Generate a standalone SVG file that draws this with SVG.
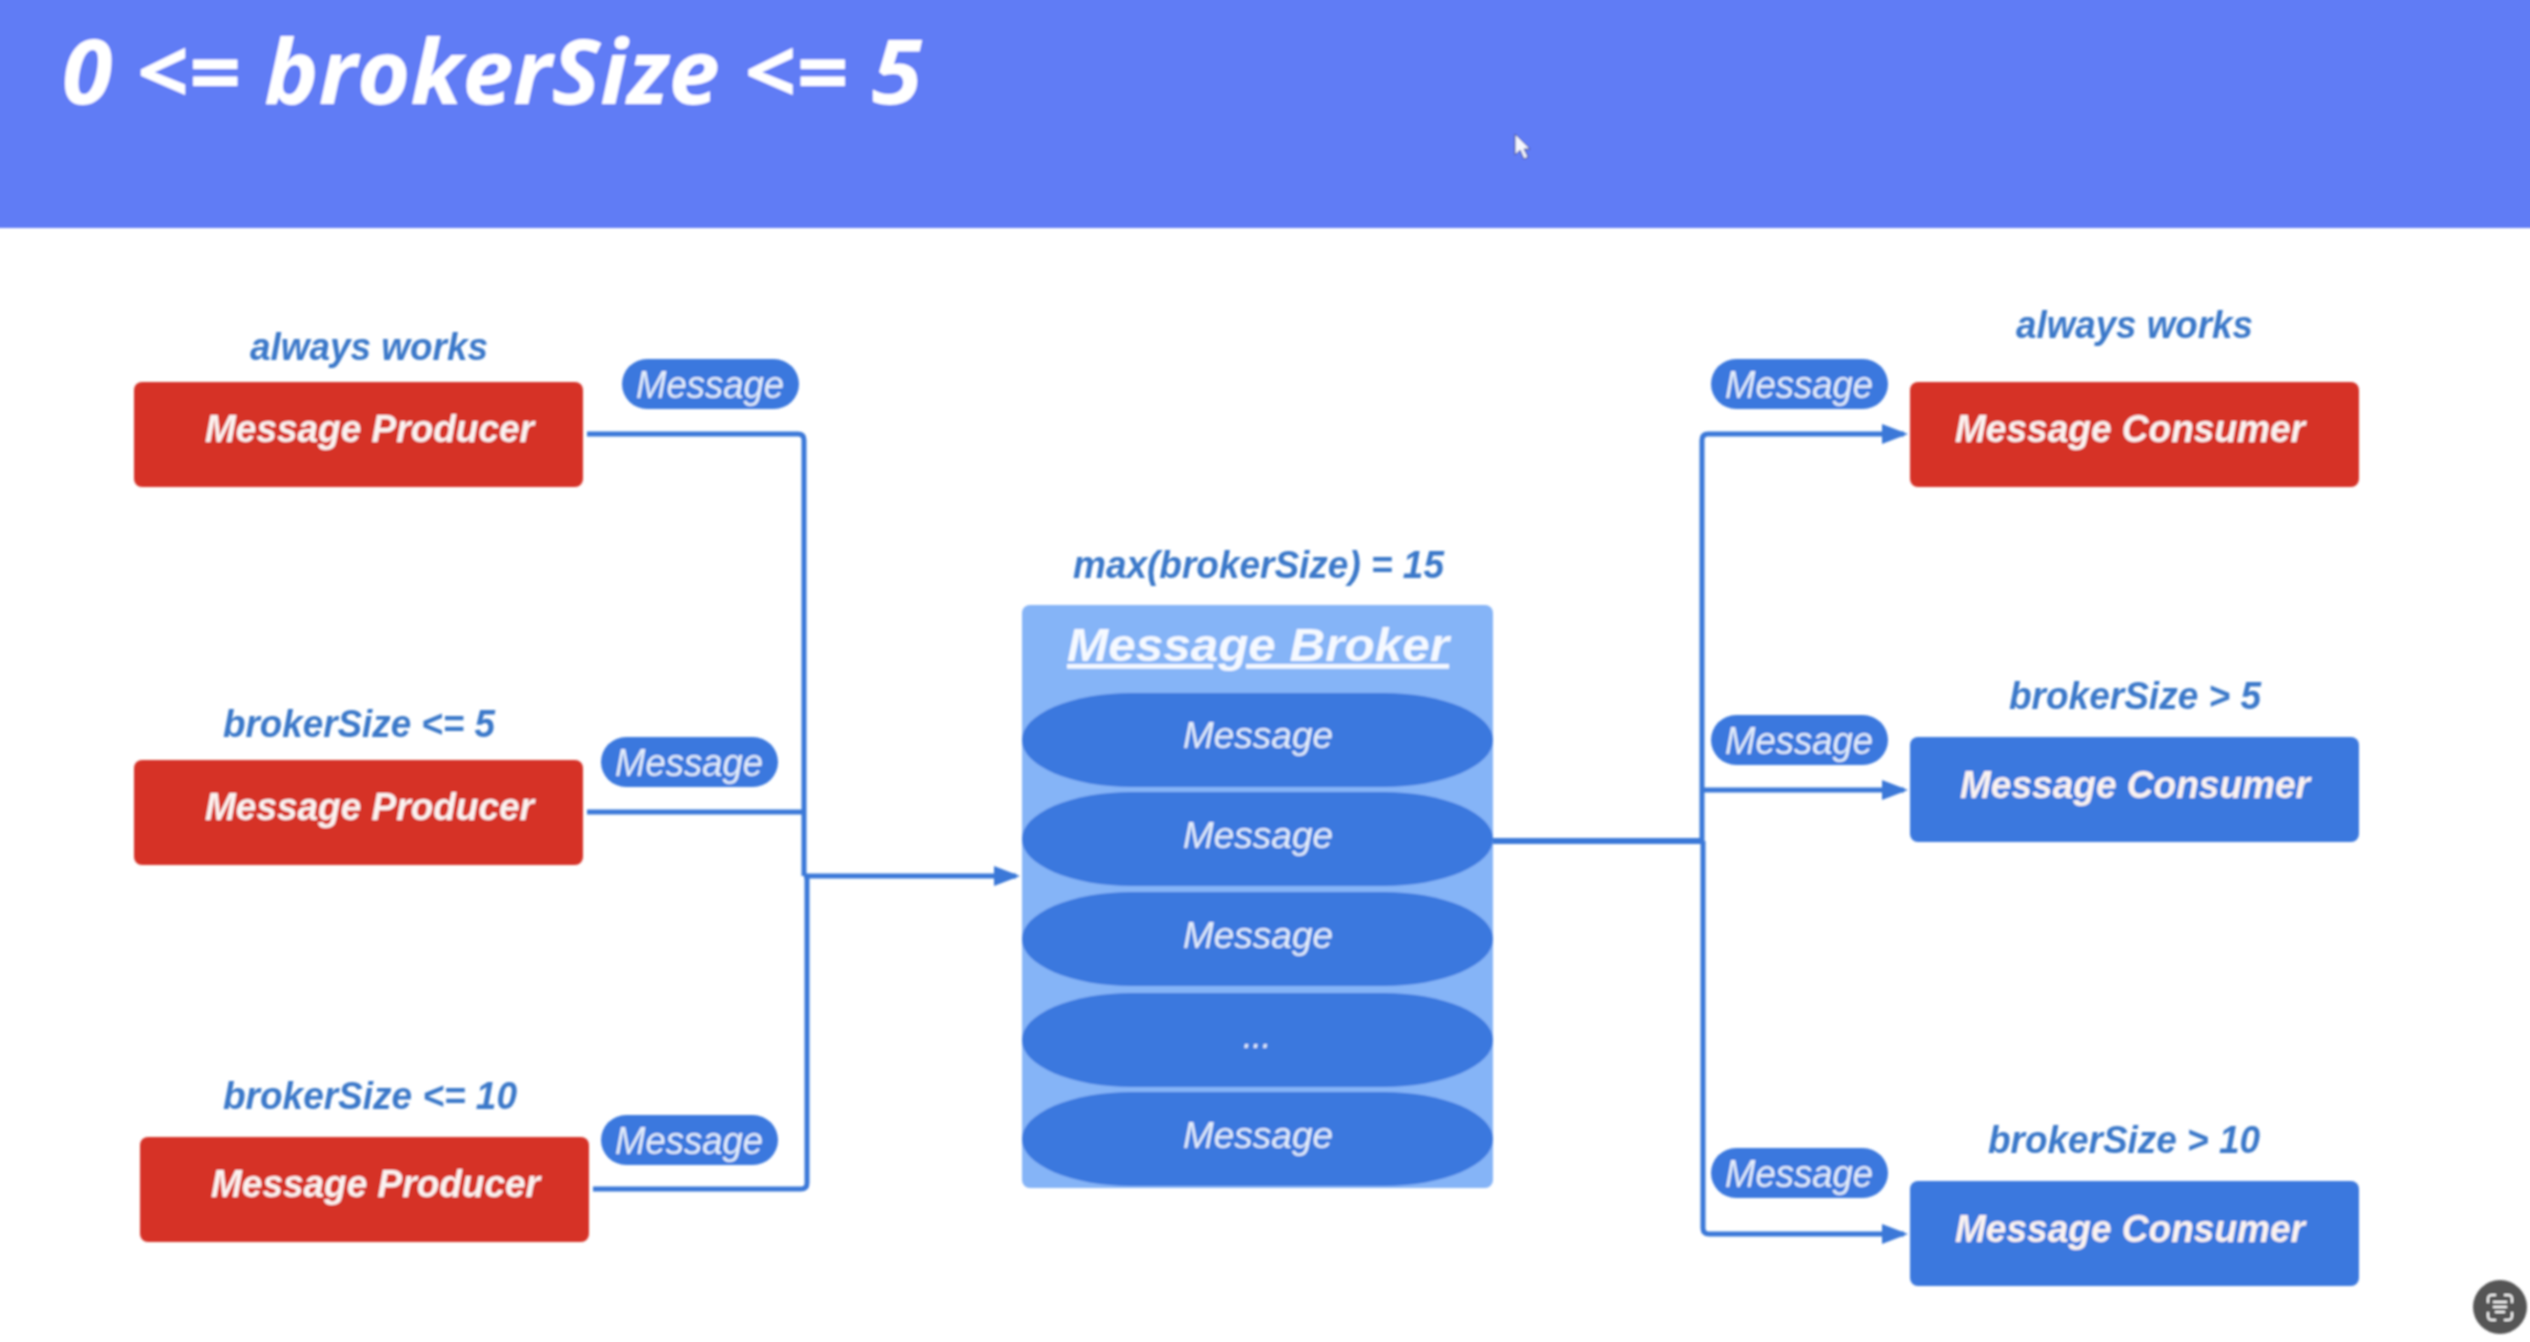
<svg xmlns="http://www.w3.org/2000/svg" width="2530" height="1342" viewBox="0 0 2530 1342">
<style>
text{font-family:"Liberation Sans",Arial,sans-serif;font-style:italic}
.title{font-family:"Open Sans","Liberation Sans",sans-serif;font-weight:700;font-size:90px;fill:#fff}
.box{font-weight:700;font-size:39px;fill:#fbf3f1}
.cap{font-weight:700;font-size:38px;fill:#3b78c9}
.msg{font-size:39px;fill:#e3edfb}
.item{font-size:36px;fill:#e3edfb}
.red{fill:#d63027}
.blue{fill:#3b78de}
.wire{fill:none;stroke:#3b78d8;stroke-width:5}
</style>
<defs>
<marker id="arrow" markerUnits="userSpaceOnUse" markerWidth="26" markerHeight="20" refX="22" refY="10" orient="auto"><path d="M0 0 L26 10 L0 20 Z" fill="#3b78d8"/></marker>
<filter id="soft" filterUnits="userSpaceOnUse" x="-30" y="-30" width="2590" height="1402"><feGaussianBlur stdDeviation="0.8"/></filter>
</defs>
<rect width="2530" height="1342" fill="#fff"/>
<g filter="url(#soft)">
<g id="banner">
<rect x="-30" y="-30" width="2590" height="258" fill="#617cf5"/>
<text class="title" x="62" y="104" textLength="860" lengthAdjust="spacingAndGlyphs">0 &lt;= brokerSize &lt;= 5</text>
</g>
<g id="connectors">
<path class="wire" d="M587 434H798Q804 434 804 440V876"/>
<path class="wire" d="M587 812H803"/>
<path class="wire" d="M593 1189H801Q807 1189 807 1183V876"/>
<path class="wire" d="M804 876H1016" marker-end="url(#arrow)"/>
<path class="wire" style="stroke-width:6" d="M1493 841H1704"/>
<path class="wire" d="M1702 841V440Q1702 434 1708 434H1904" marker-end="url(#arrow)"/>
<path class="wire" d="M1702 790H1904" marker-end="url(#arrow)"/>
<path class="wire" d="M1703 841V1228Q1703 1234 1709 1234H1904" marker-end="url(#arrow)"/>
</g>
<g id="producer-1">
<text class="cap" x="250" y="360" textLength="238" lengthAdjust="spacingAndGlyphs">always works</text>
<rect class="red" x="134" y="382" width="449" height="105" rx="8"/>
<text class="box" x="205" y="442" textLength="329" lengthAdjust="spacingAndGlyphs">Message Producer</text>
</g>
<g id="producer-2">
<text class="cap" x="223" y="737" textLength="272" lengthAdjust="spacingAndGlyphs">brokerSize &lt;= 5</text>
<rect class="red" x="134" y="760" width="449" height="105" rx="8"/>
<text class="box" x="205" y="820" textLength="329" lengthAdjust="spacingAndGlyphs">Message Producer</text>
</g>
<g id="producer-3">
<text class="cap" x="223" y="1109" textLength="294" lengthAdjust="spacingAndGlyphs">brokerSize &lt;= 10</text>
<rect class="red" x="140" y="1137" width="449" height="105" rx="8"/>
<text class="box" x="211" y="1197" textLength="329" lengthAdjust="spacingAndGlyphs">Message Producer</text>
</g>
<g id="message-p1"><rect class="blue" x="622" y="359" width="177" height="50" rx="25"/><text class="msg" x="636" y="398" textLength="148" lengthAdjust="spacingAndGlyphs">Message</text></g>
<g id="message-p2"><rect class="blue" x="601" y="737" width="177" height="50" rx="25"/><text class="msg" x="615" y="776" textLength="148" lengthAdjust="spacingAndGlyphs">Message</text></g>
<g id="message-p3"><rect class="blue" x="601" y="1115" width="177" height="50" rx="25"/><text class="msg" x="615" y="1154" textLength="148" lengthAdjust="spacingAndGlyphs">Message</text></g>
<g id="broker">
<text class="cap" x="1073" y="578" textLength="371" lengthAdjust="spacingAndGlyphs">max(brokerSize) = 15</text>
<rect x="1022" y="605" width="471" height="583" rx="8" fill="#85b4f7"/>
<text x="1067" y="661" font-size="47" font-weight="700" fill="#f5f9ff" text-decoration="underline" textLength="382" lengthAdjust="spacingAndGlyphs">Message Broker</text>
<rect class="blue" x="1022" y="693" width="471" height="94" rx="110" ry="47"/>
<rect class="blue" x="1022" y="792" width="471" height="94" rx="110" ry="47"/>
<rect class="blue" x="1022" y="892" width="471" height="94" rx="110" ry="47"/>
<rect class="blue" x="1022" y="993" width="471" height="94" rx="110" ry="47"/>
<rect class="blue" x="1022" y="1092" width="471" height="94" rx="110" ry="47"/>
<text class="item" x="1183" y="748" textLength="150" lengthAdjust="spacingAndGlyphs">Message</text>
<text class="item" x="1183" y="848" textLength="150" lengthAdjust="spacingAndGlyphs">Message</text>
<text class="item" x="1183" y="948" textLength="150" lengthAdjust="spacingAndGlyphs">Message</text>
<text class="item" x="1243" y="1048" textLength="28" lengthAdjust="spacingAndGlyphs">...</text>
<text class="item" x="1183" y="1148" textLength="150" lengthAdjust="spacingAndGlyphs">Message</text>
</g>
<g id="consumer-1">
<text class="cap" x="2016" y="338" textLength="237" lengthAdjust="spacingAndGlyphs">always works</text>
<rect class="red" x="1910" y="382" width="449" height="105" rx="8"/>
<text class="box" x="1955" y="442" textLength="350" lengthAdjust="spacingAndGlyphs">Message Consumer</text>
</g>
<g id="consumer-2">
<text class="cap" x="2009" y="709" textLength="252" lengthAdjust="spacingAndGlyphs">brokerSize &gt; 5</text>
<rect class="blue" x="1910" y="737" width="449" height="105" rx="8"/>
<text class="box" x="1960" y="798" textLength="350" lengthAdjust="spacingAndGlyphs">Message Consumer</text>
</g>
<g id="consumer-3">
<text class="cap" x="1988" y="1153" textLength="272" lengthAdjust="spacingAndGlyphs">brokerSize &gt; 10</text>
<rect class="blue" x="1910" y="1181" width="449" height="105" rx="8"/>
<text class="box" x="1955" y="1242" textLength="350" lengthAdjust="spacingAndGlyphs">Message Consumer</text>
</g>
<g id="message-c1"><rect class="blue" x="1711" y="359" width="177" height="50" rx="25"/><text class="msg" x="1725" y="398" textLength="148" lengthAdjust="spacingAndGlyphs">Message</text></g>
<g id="message-c2"><rect class="blue" x="1711" y="715" width="177" height="50" rx="25"/><text class="msg" x="1725" y="754" textLength="148" lengthAdjust="spacingAndGlyphs">Message</text></g>
<g id="message-c3"><rect class="blue" x="1711" y="1148" width="177" height="50" rx="25"/><text class="msg" x="1725" y="1187" textLength="148" lengthAdjust="spacingAndGlyphs">Message</text></g>
<path d="M1515 134V155L1520 150L1524 159L1528 157L1524 149H1530Z" fill="#f4f6ff" stroke="#3d4a8a" stroke-width="1"/>
<g id="screen-icon">
<circle cx="2500" cy="1307" r="27" fill="#555"/>
<path d="M2488 1303V1299Q2488 1295 2492 1295H2496M2504 1295H2508Q2512 1295 2512 1299V1303M2512 1312V1316Q2512 1320 2508 1320H2504M2496 1320H2492Q2488 1320 2488 1316V1312" fill="none" stroke="#fff" stroke-width="2"/>
<path d="M2493 1302H2507M2493 1307H2507M2495 1312H2505" fill="none" stroke="#fff" stroke-width="2"/>
</g>
</g>
</svg>
